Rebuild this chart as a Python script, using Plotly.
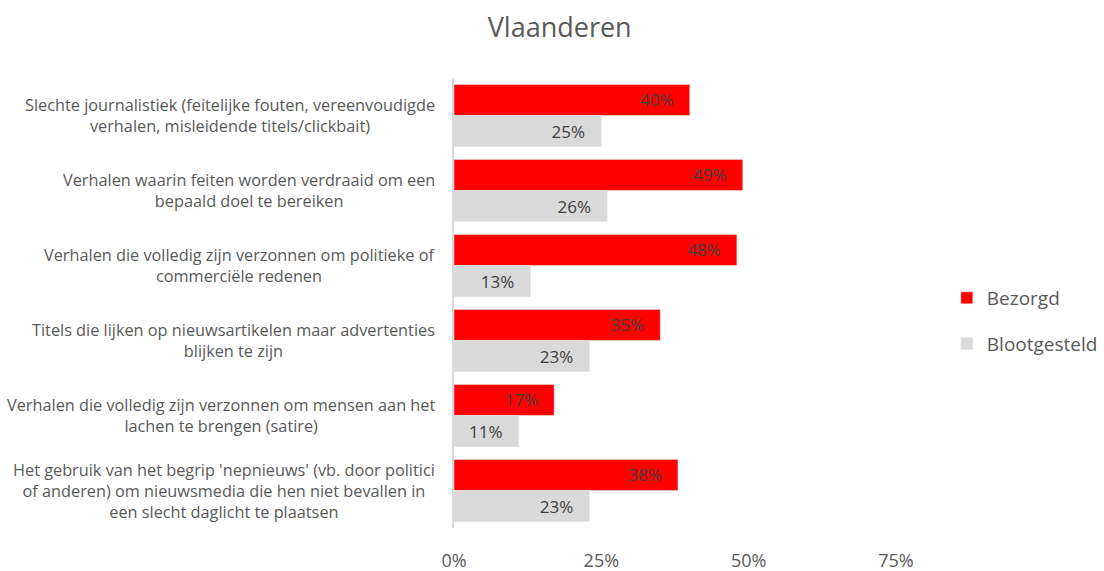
import plotly.graph_objects as go

categories = [
    "Slechte journalistiek (feitelijke fouten, vereenvoudigde<br>verhalen, misleidende titels/clickbait)",
    "Verhalen waarin feiten worden verdraaid om een<br>bepaald doel te bereiken",
    "Verhalen die volledig zijn verzonnen om politieke of<br>commerciële redenen",
    "Titels die lijken op nieuwsartikelen maar advertenties<br>blijken te zijn",
    "Verhalen die volledig zijn verzonnen om mensen aan het<br>lachen te brengen (satire)",
    "Het gebruik van het begrip 'nepnieuws' (vb. door politici<br>of anderen) om nieuwsmedia die hen niet bevallen in<br>een slecht daglicht te plaatsen",
]
keys = ["c%d" % i for i in range(len(categories))]
bezorgd = [0.40, 0.49, 0.48, 0.35, 0.17, 0.38]
blootgesteld = [0.25, 0.26, 0.13, 0.23, 0.11, 0.23]
tick_vals = [0, 0.25, 0.5, 0.75]
tick_text = ["0%", "25%", "50%", "75%"]

FONT = "'Open Sans', sans-serif"
GREY = "#595959"
PAD = "\u00a0\u00a0\u00a0"


def labels(vals):
    return ["%d%%%s" % (round(v * 100), PAD) for v in vals]


fig = go.Figure()
fig.add_trace(go.Bar(
    y=keys, x=bezorgd, orientation="h", name="Bezorgd",
    marker=dict(color="#ff0000"),
    text=labels(bezorgd),
    textposition="inside", insidetextanchor="end",
    insidetextfont=dict(color="#404040", size=17, family=FONT),
    legendgroup="a",
))
fig.add_trace(go.Bar(
    y=keys, x=blootgesteld, orientation="h", name="Blootgesteld",
    marker=dict(color="#d9d9d9"),
    text=labels(blootgesteld),
    textposition="inside", insidetextanchor="end",
    insidetextfont=dict(color="#404040", size=17, family=FONT),
    legendgroup="b",
))

# category labels, centred per line like the original
for k, lab in zip(keys, categories):
    fig.add_annotation(
        xref="paper", yref="y", x=0, y=k, text=lab, showarrow=False,
        xanchor="right", xshift=-17, align="center",
        font=dict(size=16.3, color=GREY, family=FONT),
    )

fig.update_layout(
    width=1104, height=571,
    margin=dict(l=454, r=208, t=78, b=43, autoexpand=False),
    paper_bgcolor="white", plot_bgcolor="white",
    font=dict(family=FONT, color=GREY),
    title=dict(text="Vlaanderen", x=0.507, xanchor="center",
               y=0.951, yanchor="middle",
               font=dict(size=27, color=GREY, family=FONT)),
    barmode="group", bargap=0.17, bargroupgap=0,
    legend=dict(x=1.115, y=0.46, xanchor="left", yanchor="middle",
                font=dict(size=19, color=GREY, family=FONT),
                tracegroupgap=18, traceorder="grouped"),
    showlegend=True,
)
fig.update_xaxes(range=[0, 0.75], tickvals=tick_vals, ticktext=tick_text,
                 showgrid=False, zeroline=False, showline=False,
                 tickfont=dict(size=18, color=GREY), ticklabelstandoff=20)
fig.update_yaxes(autorange="reversed", showticklabels=False, showgrid=False,
                 showline=True, linecolor="#d9d9d9", linewidth=2, ticks="")

fig.write_html("out.html", config={"displayModeBar": False},
               post_script="document.body.style.margin='0';")
